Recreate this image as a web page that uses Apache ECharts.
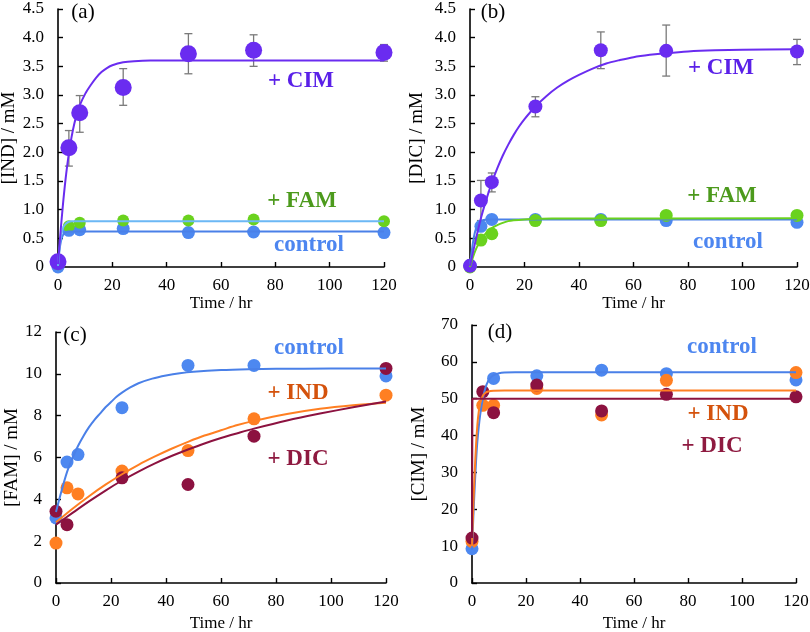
<!DOCTYPE html>
<html>
<head>
<meta charset="utf-8" />
<title>kinetics</title>
<script src="https://cdn.jsdelivr.net/npm/echarts@6/dist/echarts.min.js"></script>
<style>
html, body { margin: 0; width: 100%; height: 100%; background: #fff; }
#main { width: 810px; height: 632px; }
</style>
</head>
<body>
<div id="main"></div>
<script>
// sampling times (hr)
var hours = [0, 4, 8, 24, 48, 72, 120];

// (a) [IND]
var aCim = [0.09, 2.08, 2.69, 3.13, 3.72, 3.78, 3.74];
var aCimLo = [null, 1.76, 2.35, 2.82, 3.37, 3.50, 3.59];
var aCimHi = [null, 2.38, 2.99, 3.46, 4.07, 4.05, 3.88];
var aFam = [0.05, 0.71, 0.77, 0.81, 0.81, 0.83, 0.80];
var aCtrl = [0.0, 0.64, 0.65, 0.67, 0.60, 0.61, 0.60];
var aCimFit = [[0, 0.05], [0.5, 0.35], [1, 0.65], [1.5, 0.92], [2, 1.18], [3, 1.62], [4, 1.98], [5, 2.27], [6, 2.5], [7, 2.68], [8, 2.82], [10, 3.02], [12, 3.17], [14, 3.3], [16, 3.4], [18, 3.47], [20, 3.52], [24, 3.57], [28, 3.59], [34, 3.6], [120, 3.6]];
var aFamFit = [[0, 0.02], [0.5, 0.3], [1, 0.5], [1.5, 0.62], [2, 0.7], [3, 0.76], [4, 0.79], [5, 0.8], [120, 0.8]];
var aCtrlFit = [[0, 0.02], [0.5, 0.28], [1, 0.43], [1.5, 0.52], [2, 0.57], [3, 0.61], [4, 0.62], [120, 0.62]];

// (b) [DIC]
var bCim = [0.02, 1.16, 1.48, 2.80, 3.78, 3.77, 3.76];
var bCimLo = [null, 0.81, 1.31, 2.62, 3.46, 3.33, 3.53];
var bCimHi = [null, 1.51, 1.64, 2.97, 4.10, 4.22, 3.97];
var bFam = [0.0, 0.47, 0.58, 0.81, 0.81, 0.90, 0.90];
var bCtrl = [0.03, 0.71, 0.83, 0.83, 0.83, 0.81, 0.78];
var bCimFit = [[0, 0.02], [2, 0.45], [4, 0.85], [6, 1.18], [8, 1.47], [10, 1.72], [12, 1.94], [14, 2.13], [16, 2.3], [18, 2.45], [20, 2.58], [24, 2.8], [28, 2.98], [32, 3.13], [36, 3.25], [40, 3.35], [45, 3.46], [50, 3.55], [55, 3.61], [60, 3.66], [66, 3.7], [72, 3.73], [80, 3.76], [90, 3.78], [100, 3.79], [120, 3.8]];
var bFamFit = [[0, 0], [1, 0.16], [2, 0.29], [3, 0.39], [4, 0.47], [5, 0.54], [6, 0.6], [8, 0.68], [10, 0.73], [12, 0.77], [14, 0.8], [16, 0.815], [20, 0.83], [25, 0.84], [30, 0.845], [120, 0.85]];
var bCtrlFit = [[0, 0], [0.5, 0.22], [1, 0.4], [1.5, 0.54], [2, 0.64], [3, 0.75], [4, 0.8], [5, 0.82], [6, 0.83], [120, 0.83]];

// (c) [FAM]
var cCtrl = [3.11, 5.78, 6.14, 8.38, 10.4, 10.4, 9.9];
var cInd = [1.91, 4.55, 4.26, 5.35, 6.33, 7.85, 8.98];
var cDic = [3.43, 2.79, null, 5.03, 4.71, 7.02, 10.26];
var cCtrlFit = [[0, 3.4], [2, 4.4], [4, 5.3], [6, 5.98], [8, 6.55], [10, 7.03], [12, 7.45], [14, 7.8], [16, 8.1], [18, 8.4], [20, 8.65], [22, 8.9], [24, 9.1], [27, 9.35], [30, 9.55], [35, 9.77], [40, 9.92], [45, 10.03], [50, 10.1], [60, 10.18], [70, 10.22], [80, 10.24], [100, 10.25], [120, 10.25]];
var cIndFit = [[0, 2.9], [6, 3.55], [12, 4.15], [18, 4.7], [24, 5.2], [30, 5.65], [36, 6.05], [42, 6.42], [48, 6.75], [54, 7.05], [60, 7.3], [66, 7.55], [72, 7.75], [84, 8.08], [96, 8.33], [108, 8.5], [120, 8.62]];
var cDicFit = [[0, 2.79], [6, 3.35], [12, 3.9], [18, 4.42], [24, 4.9], [30, 5.33], [36, 5.72], [42, 6.07], [48, 6.38], [54, 6.67], [60, 6.93], [66, 7.16], [72, 7.38], [84, 7.77], [96, 8.1], [108, 8.4], [120, 8.68]];

// (d) [CIM]
var dCtrl = [9.3, null, 55.5, 56.2, 57.75, 56.8, 55.1];
var dInd = [11.3, 48.2, 48.2, 52.8, 45.6, 55.0, 57.1];
var dDic = [12.2, 51.9, 46.2, 53.7, 46.7, 51.2, 50.5];
var dCtrlFit = [[0, 9], [0.5, 18], [1, 26], [1.5, 33], [2, 38.5], [3, 45.5], [4, 50], [5, 53], [6, 54.8], [7, 55.8], [8, 56.4], [10, 56.9], [12, 57.1], [16, 57.2], [120, 57.2]];
var dIndFit = [[0, 10], [0.5, 21], [1, 30], [1.5, 37.5], [2, 43], [2.5, 46.5], [3, 48.7], [4, 50.8], [5, 51.6], [6, 51.95], [8, 52.15], [12, 52.2], [120, 52.2]];
var dDicFit = [[0, 12.2], [0.15, 50], [120, 50]];

var PURPLE = '#6a2cf0', BLUE = '#4d88f0', GREEN = '#6ad21e', SKY = '#6cb8f5',
    ORANGE = '#ff7f22', WINE = '#8c1240';
var SERIF = '"Liberation Serif", "Times New Roman", serif';

function zip(vals) {
    return hours.map(function (t, i) { return [t, vals[i]]; })
        .filter(function (p) { return p[1] != null; });
}
function bars(lo, hi) {
    var out = [];
    hours.forEach(function (t, i) {
        if (lo[i] != null) out.push([t, lo[i], hi[i]]);
    });
    return out;
}

var grids = [
    { left: 58, top: 9, width: 326, height: 258 },
    { left: 470, top: 9, width: 327, height: 258 },
    { left: 56, top: 332, width: 330, height: 251 },
    { left: 472, top: 325, width: 324, height: 258 }
].map(function (g) { g.outerBoundsMode = 'none'; g.containLabel = false; return g; });

var yInfo = [
    { name: '[IND] / mM', max: 4.5, interval: 0.5, gap: 36, dec: true },
    { name: '[DIC] / mM', max: 4.5, interval: 0.5, gap: 43, dec: true },
    { name: '[FAM] / mM', max: 12, interval: 2, gap: 34, dec: false },
    { name: '[CIM] / mM', max: 70, interval: 10, gap: 43, dec: false }
];

var axisLine = { lineStyle: { color: '#000', width: 1.6 } };
var axisTick = { inside: true, length: 5, lineStyle: { color: '#000', width: 1.4 } };

var xAxes = grids.map(function (g, i) {
    return {
        gridIndex: i, type: 'value', min: 0, max: 120, interval: 20,
        name: 'Time / hr', nameLocation: 'middle', nameGap: i < 2 ? 20 : 32,
        nameTextStyle: { fontFamily: SERIF, fontSize: 17, color: '#000' },
        axisLine: axisLine, axisTick: axisTick, splitLine: { show: false },
        axisLabel: { fontFamily: SERIF, fontSize: 17, color: '#000', margin: 10 }
    };
});
var yAxes = yInfo.map(function (y, i) {
    return {
        gridIndex: i, type: 'value', min: 0, max: y.max, interval: y.interval,
        name: y.name, nameLocation: 'middle', nameGap: y.gap, nameRotate: 90,
        nameTextStyle: { fontFamily: SERIF, fontSize: 19, color: '#000' },
        axisLine: axisLine, axisTick: axisTick, splitLine: { show: false },
        axisLabel: {
            fontFamily: SERIF, fontSize: 17, color: '#000', margin: 14,
            formatter: function (v) { return v === 0 ? '0' : (y.dec ? v.toFixed(1) : String(v)); }
        }
    };
});

function dots(i, vals, color, size) {
    return {
        type: 'scatter', xAxisIndex: i, yAxisIndex: i, data: zip(vals),
        symbolSize: size, itemStyle: { color: color, opacity: 1 }, z: 3, silent: true
    };
}
function fit(i, pts, color, smooth) {
    return {
        type: 'line', xAxisIndex: i, yAxisIndex: i, data: pts, showSymbol: false,
        smooth: smooth === false ? false : 0.3,
        lineStyle: { color: color, width: 2 }, z: 4, silent: true
    };
}
function errors(i, lo, hi) {
    return {
        type: 'custom', xAxisIndex: i, yAxisIndex: i, data: bars(lo, hi), z: 2, silent: true,
        renderItem: function (params, api) {
            var top = api.coord([api.value(0), api.value(2)]);
            var bot = api.coord([api.value(0), api.value(1)]);
            var w = 4;
            var st = { stroke: '#7a7a7a', lineWidth: 1.3 };
            return {
                type: 'group', children: [
                    { type: 'line', shape: { x1: top[0], y1: top[1], x2: bot[0], y2: bot[1] }, style: st },
                    { type: 'line', shape: { x1: top[0] - w, y1: top[1], x2: top[0] + w, y2: top[1] }, style: st },
                    { type: 'line', shape: { x1: bot[0] - w, y1: bot[1], x2: bot[0] + w, y2: bot[1] }, style: st }
                ]
            };
        }
    };
}

var series = [
    // (a)
    errors(0, aCimLo, aCimHi),
    dots(0, aCtrl, BLUE, 13),
    dots(0, aFam, GREEN, 12),
    dots(0, aCim, PURPLE, 17),
    fit(0, aCtrlFit, '#4a80e8'),
    fit(0, aFamFit, SKY),
    fit(0, aCimFit, PURPLE),
    // (b)
    errors(1, bCimLo, bCimHi),
    dots(1, bCtrl, BLUE, 13),
    dots(1, bFam, GREEN, 13),
    dots(1, bCim, PURPLE, 14),
    fit(1, bCtrlFit, '#4a80e8'),
    fit(1, bFamFit, GREEN),
    fit(1, bCimFit, PURPLE),
    // (c)
    dots(2, cCtrl, BLUE, 13),
    dots(2, cInd, ORANGE, 13),
    dots(2, cDic, WINE, 13),
    fit(2, cCtrlFit, '#4a80e8'),
    fit(2, cIndFit, ORANGE),
    fit(2, cDicFit, WINE),
    // (d)
    dots(3, dCtrl, BLUE, 13),
    dots(3, dInd, ORANGE, 13),
    dots(3, dDic, WINE, 13),
    fit(3, dCtrlFit, '#4a80e8'),
    fit(3, dIndFit, ORANGE),
    fit(3, dDicFit, WINE, false)
];

function txt(s, x, y, color, bold, size) {
    return {
        type: 'text', x: x, y: y, z: 10, silent: true,
        style: {
            text: s, fill: color,
            font: (bold ? 'bold ' : '') + size + 'px ' + SERIF,
            align: 'center', verticalAlign: 'middle',
            textAlign: 'center', textVerticalAlign: 'middle'
        }
    };
}
var TXT_CIM = '#5a20e8', TXT_FAM = '#4c9a1c', TXT_CTRL = '#4d86f0',
    TXT_IND = '#d4520c', TXT_DIC = '#8e1a40';

var labels = [
    txt('(a)', 83, 12, '#000', false, 21),
    txt('(b)', 493, 12, '#000', false, 21),
    txt('(c)', 75, 335, '#000', false, 21),
    txt('(d)', 500, 332, '#000', false, 21),
    txt('+ CIM', 301, 81, TXT_CIM, true, 23),
    txt('+ FAM', 302, 201, TXT_FAM, true, 23),
    txt('control', 309, 245, TXT_CTRL, true, 23),
    txt('+ CIM', 721, 68, TXT_CIM, true, 23),
    txt('+ FAM', 722, 196, TXT_FAM, true, 23),
    txt('control', 728, 242, TXT_CTRL, true, 23),
    txt('control', 309, 348, TXT_CTRL, true, 23),
    txt('+ IND', 298, 393, TXT_IND, true, 23),
    txt('+ DIC', 298, 459, TXT_DIC, true, 23),
    txt('control', 722, 347, TXT_CTRL, true, 23),
    txt('+ IND', 718, 414, TXT_IND, true, 23),
    txt('+ DIC', 712, 446, TXT_DIC, true, 23)
];

var chart = echarts.init(document.getElementById('main'));
chart.setOption({
    animation: false,
    backgroundColor: '#fff',
    grid: grids,
    xAxis: xAxes,
    yAxis: yAxes,
    series: series,
    graphic: labels
});
</script>
</body>
</html>
